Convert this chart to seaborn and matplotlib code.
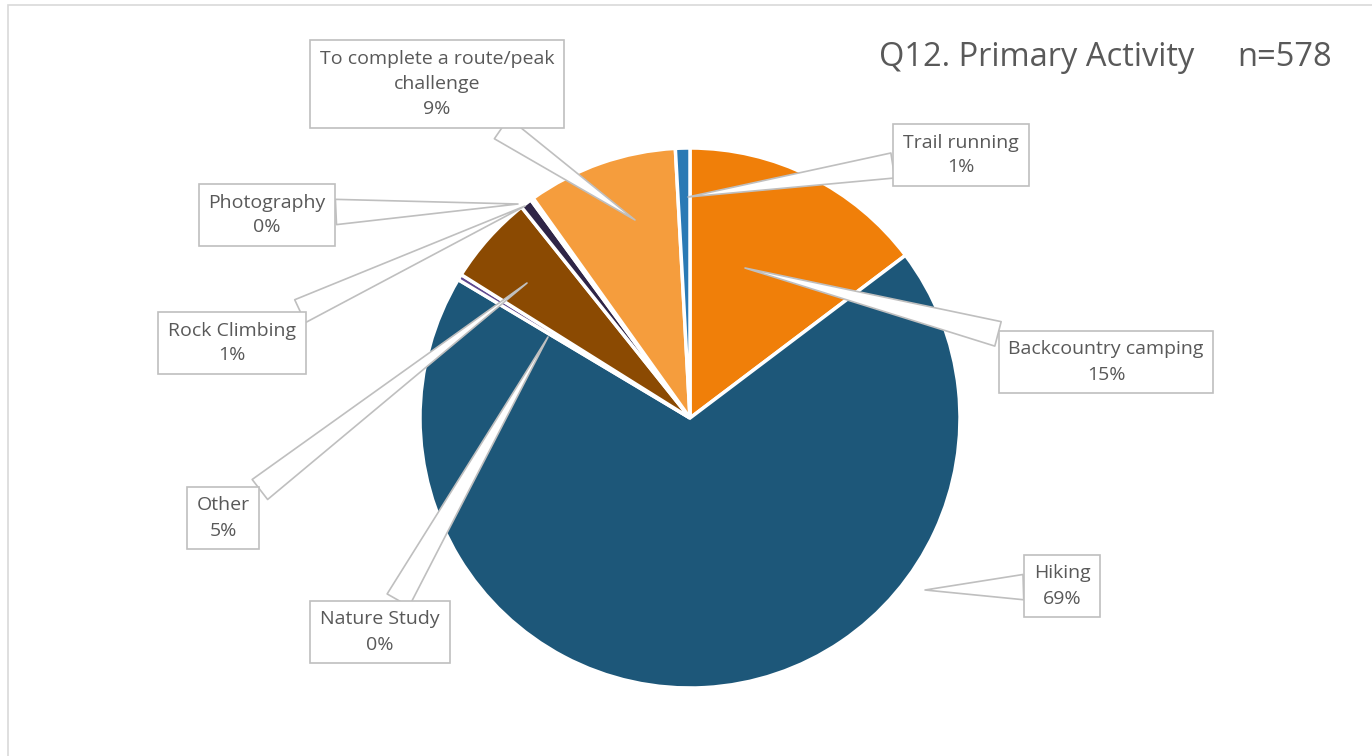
"""Q12 primary activity pie with Excel-style callout labels"""

import matplotlib
matplotlib.use("Agg")
import matplotlib.pyplot as plt
import seaborn as sns
from matplotlib.patches import Rectangle

# data (counts, n=578)
activities = ["Backcountry camping", "Hiking", "Nature Study", "Other",
              "Rock Climbing", "Photography",
              "To complete a route/peak\nchallenge", "Trail running"]
counts = [85, 398, 2, 31, 4, 1, 52, 5]
pct_labels = ["15%", "69%", "0%", "5%", "1%", "0%", "9%", "1%"]
colors = ["#F07F09", "#1D5779", "#60498F", "#8B4A02",
          "#2F2547", "#7A6AA8", "#F59D3D", "#2A7AB5"]

# callout box centres and pointer targets (pixel coords, y from top)
box_xy = [(1106, 362), (1062, 586), (380, 632), (223, 518),
          (232, 343), (267, 215), (437, 84), (961, 155)]
tip_xy = [(745, 268), (925, 590), (548, 337), (527, 283),
          (525, 206), (518, 204), (635, 220), (688, 197)]

W, H = 1372, 756
sns.set_theme(style="white")
plt.rcParams["font.family"] = ["Open Sans", "DejaVu Sans"]

fig = plt.figure(figsize=(W / 100, H / 100), dpi=100)
ax = fig.add_axes([0, 0, 1, 1])

ax.pie(counts, colors=colors, startangle=90, counterclock=False,
       center=(690, H - 418), radius=270,
       wedgeprops=dict(edgecolor="white", linewidth=2.5))

ax.set_xlim(0, W)
ax.set_ylim(0, H)
ax.set_aspect("equal")
ax.axis("off")

# chart border
ax.add_patch(Rectangle((8, -10), W, H - 5 + 10, fill=False,
                       ec="#D9D9D9", lw=1.2))

for name, pct, (bx, by), (tx, ty) in zip(activities, pct_labels, box_xy, tip_xy):
    ax.annotate(f"{name}\n{pct}", xy=(tx, H - ty), xytext=(bx, H - by),
                ha="center", va="center", fontsize=14, color="#595959",
                linespacing=1.5,
                bbox=dict(boxstyle="square,pad=0.5", fc="white",
                          ec="#BFBFBF", lw=1.2),
                arrowprops=dict(arrowstyle="wedge,tail_width=1.3,shrink_factor=0.5",
                                fc="white", ec="#BFBFBF", lw=1.2,
                                shrinkA=0, shrinkB=0))

ax.text(1332, H - 57, "n=578", ha="right", va="center",
        fontsize=23.5, color="#595959")
ax.text(1194, H - 57, "Q12. Primary Activity", ha="right", va="center",
        fontsize=23.5, color="#595959")

fig.savefig("out.png", dpi=100)
